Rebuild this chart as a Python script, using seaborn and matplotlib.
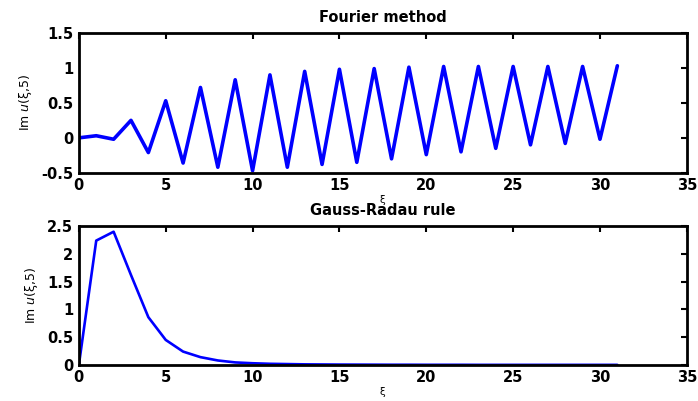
import numpy as np
import pandas as pd
import matplotlib
matplotlib.use("Agg")
import matplotlib.pyplot as plt
from matplotlib.ticker import FuncFormatter
import seaborn as sns

# Imaginary part of u(xi, 5) for integer xi = 0..31
xi = list(range(32))
fourier_vals = [0.00, 0.03, -0.02, 0.25, -0.21, 0.53, -0.36, 0.72, -0.42, 0.83,
                -0.47, 0.90, -0.42, 0.95, -0.38, 0.98, -0.35, 0.99, -0.30, 1.01,
                -0.24, 1.02, -0.20, 1.02, -0.15, 1.02, -0.10, 1.02, -0.08, 1.02,
                -0.02, 1.03]
radau_vals = [0.00, 2.24, 2.40, 1.62, 0.86, 0.45, 0.24, 0.14, 0.08, 0.045,
              0.03, 0.02, 0.015, 0.01, 0.008, 0.006, 0.005, 0.004, 0.003, 0.003,
              0.002, 0.002, 0.002, 0.001, 0.001, 0.001, 0.001, 0.001, 0.001, 0.001,
              0.001, 0.001]

titles = ["Fourier method", "Gauss-Radau rule"]
x_ticks = [0, 5, 10, 15, 20, 25, 30, 35]
y_ticks_top = [-0.5, 0, 0.5, 1, 1.5]
y_ticks_bottom = [0, 0.5, 1, 1.5, 2, 2.5]

sns.set_style("white")
plt.rcParams["font.family"] = ["DejaVu Sans"]
plt.rcParams["axes.unicode_minus"] = False
plt.rcParams["text.color"] = "black"
plt.rcParams["axes.labelcolor"] = "black"
plt.rcParams["xtick.color"] = "black"
plt.rcParams["ytick.color"] = "black"

fig = plt.figure(figsize=(6.98, 4.01), dpi=100)
ax1 = fig.add_axes([0.113, 0.569, 0.871, 0.349])
ax2 = fig.add_axes([0.113, 0.090, 0.871, 0.346])

df_top = pd.DataFrame({"xi": xi, "val": fourier_vals})
df_bot = pd.DataFrame({"xi": xi, "val": radau_vals})

sns.lineplot(data=df_top, x="xi", y="val", ax=ax1, color="#0000ff", linewidth=2.6)
sns.lineplot(data=df_bot, x="xi", y="val", ax=ax2, color="#0000ff", linewidth=1.9)

fmt = FuncFormatter(lambda v, p: f"{v:g}")
for ax, yt, title in [(ax1, y_ticks_top, titles[0]), (ax2, y_ticks_bottom, titles[1])]:
    ax.set_xlim(0, 35)
    ax.set_ylim(yt[0], yt[-1])
    ax.set_xticks(x_ticks)
    ax.set_yticks(yt)
    ax.xaxis.set_major_formatter(fmt)
    ax.yaxis.set_major_formatter(fmt)
    ax.tick_params(direction="in", length=4, width=1.5, top=True, right=True,
                   labelsize=10.5, pad=4, colors="black")
    for lab in ax.get_xticklabels() + ax.get_yticklabels():
        lab.set_fontweight("bold")
    for s in ax.spines.values():
        s.set_visible(True)
        s.set_linewidth(2.0)
        s.set_color("black")
    ax.set_title(title, fontsize=10.5, fontweight="bold", pad=8, color="black")
    ax.set_xlabel("ξ", fontsize=7.5, labelpad=1, color="black")
    ax.set_ylabel(r"Im $u$(ξ,5)", fontsize=9, labelpad=5, color="black")

fig.savefig("out.png", dpi=100, facecolor="white")
